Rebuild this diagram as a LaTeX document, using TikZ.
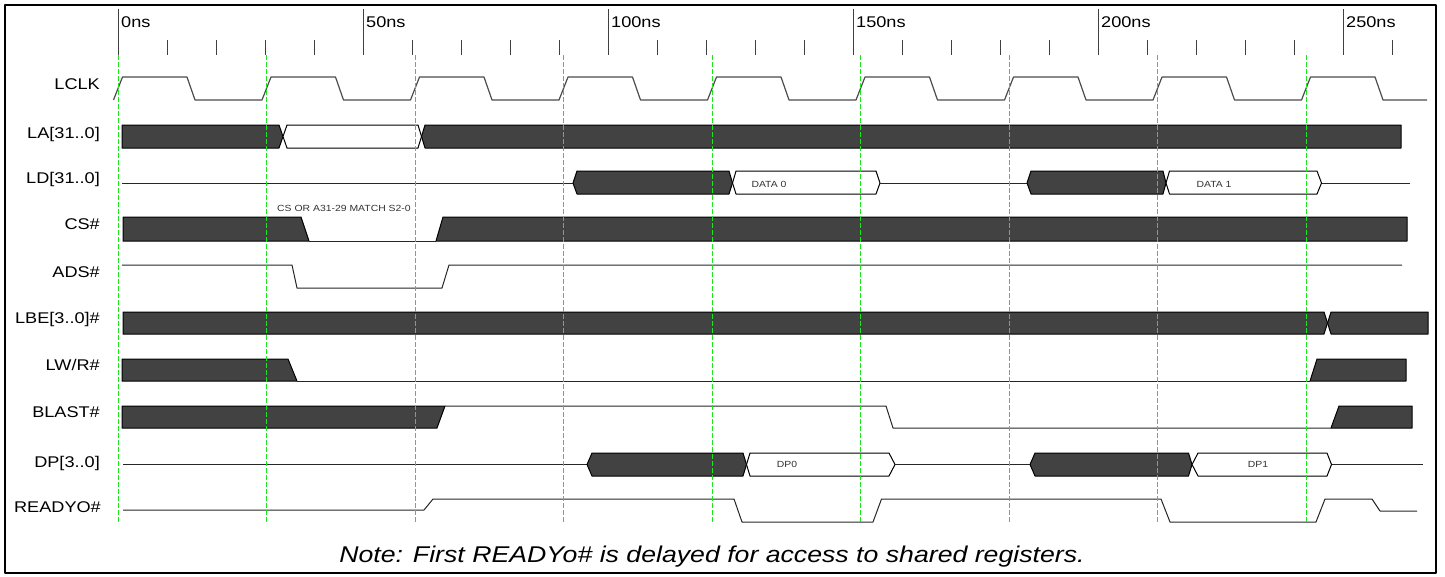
\documentclass[tikz,border=0pt]{standalone}
\usepackage{fontspec}
\setmainfont{Liberation Sans}[FakeStretch=1.17]
\definecolor{busgray}{HTML}{424242}
\definecolor{edgegreen}{RGB}{30,230,30}

\begin{document}
\begin{tikzpicture}
[ x=1pt, y=-1pt, line join=round
, signame/.style={anchor=base east, inner sep=0pt, font=\fontsize{15.5}{18}\selectfont}
, timename/.style={anchor=base west, inner sep=0pt, font=\fontsize{15.5}{18}\selectfont}
, busname/.style={anchor=base, inner sep=0pt, text=black!80, font=\fontsize{8.9}{10}\selectfont}
, notename/.style={anchor=base, inner sep=0pt, font=\fontsize{22.8}{26}\selectfont\itshape}
, majortick/.style={draw=black!75, line width=1pt}
, minortick/.style={draw=black!75, line width=1pt}
, edgeline/.style={draw=edgegreen, line width=0.9pt, dash pattern=on 5pt off 2pt}
, clock/.style={draw=black!70, line width=1.2pt}
, wire/.style={draw=black!85, line width=1pt}
, busdark/.style={draw=black, fill=busgray, line width=1pt}
, buswhite/.style={draw=black, fill=white, line width=1pt}
]
\useasboundingbox (0,0) rectangle (1445,576);
\draw[line width=2pt] (5,5) rectangle (1436,573);

% Time scale:
\foreach \j in {1,...,26}
  \draw[minortick] (118+49*\j,40) -- (118+49*\j,55);
\foreach \ns [count=\i from 0] in {0,50,...,250} {
  \draw[majortick] (118+245*\i,9) -- (118+245*\i,55);
  \node[timename] (t\ns) at (121+245*\i,27) {\ns ns};
}

% Signal names:
\node[signame] (lclk) at (100,89) {LCLK};
\node[signame] (la) at (100,138) {LA[31..0]};
\node[signame] (ld) at (100,183) {LD[31..0]};
\node[signame] (cs) at (100,229) {CS\#};
\node[signame] (ads) at (100,277) {ADS\#};
\node[signame] (lbe) at (100,323) {LBE[3..0]\#};
\node[signame] (lwr) at (100,370) {LW/R\#};
\node[signame] (blast) at (100,417) {BLAST\#};
\node[signame] (dp) at (100,467) {DP[3..0]};
\node[signame] (readyo) at (101,512) {READYO\#};

% LCLK:
\draw[clock] (113.5,100)
  \foreach \k in {0,...,8} { -- ({113.5+148.5*\k},100) -- ++(9,-23) -- ++(64.5,0) -- ++(8,23) }
  -- (1427,100);

% LA[31..0]:
\draw[busdark] (122,125) -- (279,125) -- (283,136.5) -- (279,148) -- (122,148) -- cycle;
\draw[buswhite] (283,136.5) -- (287,125) -- (418,125) -- (421.5,136.5) -- (418,148) -- (287,148) -- cycle;
\draw[busdark] (421.5,136.5) -- (425,125) -- (1401,125) -- (1401,148) -- (425,148) -- cycle;

% LD[31..0]:
\draw[wire] (122,183) -- (573,183);
\draw[busdark] (573,183) -- (577,171) -- (729,171) -- (732.5,183) -- (729,194) -- (577,194) -- cycle;
\draw[buswhite] (732.5,183) -- (736,171) -- (876,171) -- (880,183) -- (876,194) -- (736,194) -- cycle;
\node[busname] (data0) at (769,187) {DATA 0};
\draw[wire] (880,183) -- (1027,183);
\draw[busdark] (1027,183) -- (1031,171) -- (1163,171) -- (1166,183) -- (1163,194) -- (1031,194) -- cycle;
\draw[buswhite] (1166,183) -- (1169.5,171) -- (1317,171) -- (1321.5,183) -- (1317,194) -- (1169.5,194) -- cycle;
\node[busname] (data1) at (1214,187) {DATA 1};
\draw[wire] (1321.5,183) -- (1410,183);

% CS#:
\draw[busdark] (123,217) -- (301,217) -- (309,241) -- (123,241) -- cycle;
\draw[wire] (309,241) -- (436,241);
\draw[busdark] (436,241) -- (443,217) -- (1407,217) -- (1407,241) -- cycle;
\node[busname, anchor=base west] (match) at (277,211.5) {CS OR A31-29 MATCH S2-0};

% ADS#:
\draw[wire] (122,265) -- (292,265) -- (297,288) -- (442,288) -- (449,265) -- (1402,265);

% LBE[3..0]#:
\draw[busdark] (123,312) -- (1324,312) -- (1327.5,323) -- (1324,334) -- (123,334) -- cycle;
\draw[busdark] (1327.5,323) -- (1331,312) -- (1428,312) -- (1428,334) -- (1331,334) -- cycle;

% LW/R#:
\draw[busdark] (122,359) -- (288,359) -- (297,381) -- (122,381) -- cycle;
\draw[wire] (297,381) -- (1310,381);
\draw[busdark] (1310,381) -- (1317,359) -- (1406,359) -- (1406,381) -- cycle;

% BLAST#:
\draw[busdark] (122,406) -- (445,406) -- (437,428) -- (122,428) -- cycle;
\draw[wire] (445,406) -- (886,406) -- (893,428) -- (1331,428);
\draw[busdark] (1331,428) -- (1339,406) -- (1412,406) -- (1412,428) -- cycle;

% DP[3..0]:
\draw[wire] (123,464.5) -- (587,464.5);
\draw[busdark] (587,464.5) -- (592,453) -- (743,453) -- (746.5,464.5) -- (743,476) -- (592,476) -- cycle;
\draw[buswhite] (746.5,464.5) -- (750,453) -- (889,453) -- (895,464.5) -- (889,476) -- (750,476) -- cycle;
\node[busname] (dp0) at (787,467.5) {DP0};
\draw[wire] (895,464.5) -- (1030,464.5);
\draw[busdark] (1030,464.5) -- (1035,453) -- (1188.5,453) -- (1192,464.5) -- (1188.5,476) -- (1035,476) -- cycle;
\draw[buswhite] (1192,464.5) -- (1198,453) -- (1327,453) -- (1331.5,464.5) -- (1327,476) -- (1198,476) -- cycle;
\node[busname] (dp1) at (1258,467.5) {DP1};
\draw[wire] (1331.5,464.5) -- (1423,464.5);

% READYO#:
\draw[wire] (123,510) -- (424,510) -- (433,499) -- (734,499) -- (742,522) -- (873,522)
  -- (881.5,499) -- (1161,499) -- (1170,522) -- (1316,522) -- (1325,499) -- (1372,499)
  -- (1380,511) -- (1417,511);

% Clock edges:
\foreach \k in {0,...,8}
  \draw[edgeline] (118+148.5*\k,55) -- (118+148.5*\k,523);

\node[notename] (note) at (712,562) {Note: First READYo\# is delayed for access to shared registers.};
\end{tikzpicture}
\end{document}
